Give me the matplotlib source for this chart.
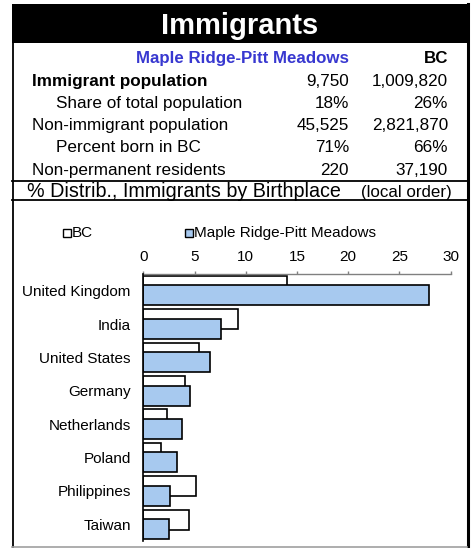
import numpy as np
import matplotlib
matplotlib.use("Agg")
import matplotlib.pyplot as plt
from matplotlib.patches import Rectangle
from matplotlib.lines import Line2D

# summary table
row_labels = ["Immigrant population", "Share of total population",
              "Non-immigrant population", "Percent born in BC",
              "Non-permanent residents"]
local_vals = ["9,750", "18%", "45,525", "71%", "220"]
bc_vals = ["1,009,820", "26%", "2,821,870", "66%", "37,190"]

# birthplace distribution (%)
countries = ["United Kingdom", "India", "United States", "Germany",
             "Netherlands", "Poland", "Philippines", "Taiwan"]
bc_pct = [14.0, 9.2, 5.4, 4.1, 2.3, 1.7, 5.1, 4.5]
local_pct = [27.9, 7.6, 6.5, 4.6, 3.8, 3.3, 2.6, 2.5]

W, H = 474, 548
plt.rcParams['font.family'] = ['Liberation Sans', 'DejaVu Sans']

fig = plt.figure(figsize=(W / 100, H / 100), dpi=100)


def px(x, y):
    return x / W, 1 - y / H


def hline(y, x0, x1, color='black', lw=1.3):
    fig.add_artist(Line2D([x0 / W, x1 / W], [1 - y / H, 1 - y / H],
                          transform=fig.transFigure, color=color, lw=lw))


def vline(x, y0, y1, color='black', lw=1.3):
    fig.add_artist(Line2D([x / W, x / W], [1 - y0 / H, 1 - y1 / H],
                          transform=fig.transFigure, color=color, lw=lw))


# title band
fig.add_artist(Rectangle(px(12, 43), 456 / W, 39 / H, transform=fig.transFigure,
                         facecolor='black', edgecolor='none'))
fig.text(*px(240, 34.5), "Immigrants", color='white', fontsize=21,
         fontweight='bold', ha='center', va='baseline')

# frame lines
vline(13, 43, 547)
vline(467.5, 4, 547, lw=2.2)
hline(181, 12, 468)
hline(200, 12, 468)
hline(546.5, 12, 467, color='#a0a0a0', lw=1.2)

# table
fig.text(*px(349, 63.3), "Maple Ridge-Pitt Meadows", color='#3838d0',
         fontsize=12.2, fontweight='bold', ha='right', va='baseline')
fig.text(*px(448, 63.3), "BC", fontsize=12.2, fontweight='bold',
         ha='right', va='baseline')
baselines = [86, 108.3, 130, 151.7, 175]
indent = [32, 56, 32, 56, 32]
for i, lab in enumerate(row_labels):
    fig.text(*px(indent[i], baselines[i]), lab, fontsize=12.3,
             fontweight='bold' if i == 0 else 'normal', ha='left', va='baseline')
    fig.text(*px(349, baselines[i]), local_vals[i], fontsize=12.3,
             ha='right', va='baseline')
    fig.text(*px(448, baselines[i]), bc_vals[i], fontsize=12.3,
             ha='right', va='baseline')

# subtitle
fig.text(*px(27, 197.2), "% Distrib., Immigrants by Birthplace", fontsize=14.2,
         ha='left', va='baseline')
fig.text(*px(452, 197.2), "(local order)", fontsize=12.2,
         ha='right', va='baseline')

# legend
fig.add_artist(Rectangle(px(63, 236.5), 7.5 / W, 8 / H, transform=fig.transFigure,
                         facecolor='white', edgecolor='black', lw=1))
fig.text(*px(72, 236.7), "BC", fontsize=11, ha='left', va='baseline')
fig.add_artist(Rectangle(px(185, 236.5), 7.5 / W, 8 / H, transform=fig.transFigure,
                         facecolor='#a7c9ef', edgecolor='black', lw=1))
fig.text(*px(194, 236.7), "Maple Ridge-Pitt Meadows", fontsize=11,
         ha='left', va='baseline')

# bar chart
ax = fig.add_axes([143.3 / W, 1 - 541 / H, 307.4 / W, 267 / H])
ax.patch.set_alpha(0)
y = np.arange(len(countries))
ax.barh(y - 0.142, bc_pct, height=0.6, color='white', edgecolor='black',
        lw=1.2, zorder=2)
ax.barh(y + 0.142, local_pct, height=0.6, color='#a7c9ef', edgecolor='black',
        lw=1.2, zorder=3)
ax.set_xlim(0, 30)
ax.set_ylim(7.5, -0.5)
ax.set_xticks([0, 5, 10, 15, 20, 25, 30])
ax.xaxis.tick_top()
ax.tick_params(axis='x', direction='out', length=2.5, width=1, color='#808080',
               labelsize=11, pad=5)
ax.set_yticks(y)
ax.set_yticklabels(countries)
ax.tick_params(axis='y', length=0, labelsize=11, pad=9)
for s in ['right', 'bottom']:
    ax.spines[s].set_visible(False)
ax.spines['top'].set_color('#808080')
ax.spines['top'].set_linewidth(1)
ax.spines['left'].set_color('black')
ax.spines['left'].set_linewidth(1.2)
ax.spines['left'].set_zorder(4)

fig.savefig("out.png", dpi=100)
